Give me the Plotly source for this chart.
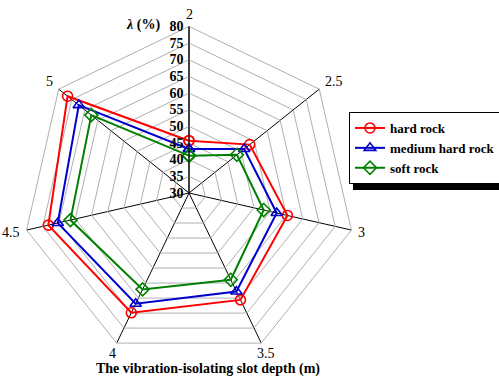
import math
import plotly.graph_objects as go

# Slot depth categories (m) and vibration-isolation ratio λ (%) per rock type
depths = ["2", "2.5", "3", "3.5", "4", "4.5", "5"]
hard_rock = [45.7, 53.3, 60.3, 65.6, 69.9, 73.3, 76.6]
medium_hard_rock = [43.2, 51.2, 57.0, 62.8, 66.9, 70.4, 72.3]
soft_rock = [41.2, 48.4, 53.0, 58.9, 62.1, 66.5, 67.5]
radial_ticks = [30, 35, 40, 45, 50, 55, 60, 65, 70, 75, 80]

W, H = 499, 379
cx, cy, R = 189, 193, 166.6  # polar centre and radius in pixels

series = [
    ("hard rock", hard_rock, "#ff0000", "circle-open"),
    ("medium hard rock", medium_hard_rock, "#0000cc", "triangle-up-open"),
    ("soft rock", soft_rock, "#008000", "diamond-open"),
]

fig = go.Figure()
for name, vals, color, sym in series:
    fig.add_trace(go.Scatterpolar(
        r=vals + vals[:1],
        theta=depths + depths[:1],
        mode="lines+markers",
        name=name,
        line=dict(color=color, width=2),
        marker=dict(symbol=sym, size=10, color=color, line=dict(width=1.6, color=color)),
        cliponaxis=False,
    ))

serif = "Times New Roman, Liberation Serif, serif"
fig.update_layout(
    width=W, height=H,
    margin=dict(l=0, r=0, t=0, b=0, autoexpand=False),
    paper_bgcolor="white",
    plot_bgcolor="white",
    font=dict(family=serif, color="black", size=14),
    polar=dict(
        domain=dict(x=[(cx - R) / W, (cx + R) / W],
                    y=[(H - cy - R) / H, (H - cy + R) / H]),
        gridshape="linear",
        bgcolor="white",
        radialaxis=dict(
            range=[30, 80], tickvals=radial_ticks,
            angle=90, side="counterclockwise",
            showline=True, linecolor="black", linewidth=1,
            gridcolor="#b0b0b0", gridwidth=1,
            ticks="", tickangle=90,
            tickfont=dict(family=serif, size=14, color="black", weight="bold"),
        ),
        angularaxis=dict(
            type="category", categoryarray=depths,
            direction="clockwise", rotation=90,
            showline=True, linecolor="#b0b0b0", linewidth=1,
            gridcolor="black", gridwidth=1,
            ticks="", showticklabels=False,
        ),
    ),
    legend=dict(
        x=349 / W, y=1 - 112 / H, xanchor="left", yanchor="top",
        bgcolor="white", bordercolor="black", borderwidth=1,
        font=dict(family=serif, size=13, color="black", weight="bold"),
        itemwidth=30, tracegroupgap=0,
    ),
    showlegend=True,
)

# Depth labels set just outside each outer vertex of the heptagon grid
n = len(depths)
for i, lab in enumerate(depths):
    a = math.radians(i * 360 / n)
    dx, dy = math.sin(a), math.cos(a)
    vx, vy = cx + R * dx, cy - R * dy
    if dx > 0.5:
        xa, xs = "left", 6 * dx
    elif dx < -0.5:
        xa, xs = "right", 6 * dx
    else:
        xa, xs = "center", 10 * dx
    fig.add_annotation(text=lab, x=vx / W, y=1 - vy / H, xref="paper", yref="paper",
                       showarrow=False, xanchor=xa, yanchor="middle",
                       xshift=xs, yshift=12 * dy, borderpad=0,
                       font=dict(family=serif, size=14, color="black"))

# Drop shadow under the legend box
fig.add_shape(type="rect", xref="paper", yref="paper",
              x0=353 / W, x1=1.0, y0=1 - 190 / H, y1=1 - 180 / H,
              fillcolor="black", line=dict(width=0), layer="below")

fig.add_annotation(text="<b><i>λ</i> (%)</b>", x=143 / W, y=1 - 25 / H,
                   xref="paper", yref="paper", showarrow=False,
                   xanchor="center", yanchor="middle",
                   font=dict(family=serif, size=14, color="black"))
fig.add_annotation(text="<b>The vibration-isolating slot depth (m)</b>",
                   x=208 / W, y=1 - 369 / H, xref="paper", yref="paper",
                   showarrow=False, xanchor="center", yanchor="middle", borderpad=0,
                   font=dict(family=serif, size=14, color="black"))

fig.write_html("out.html")
